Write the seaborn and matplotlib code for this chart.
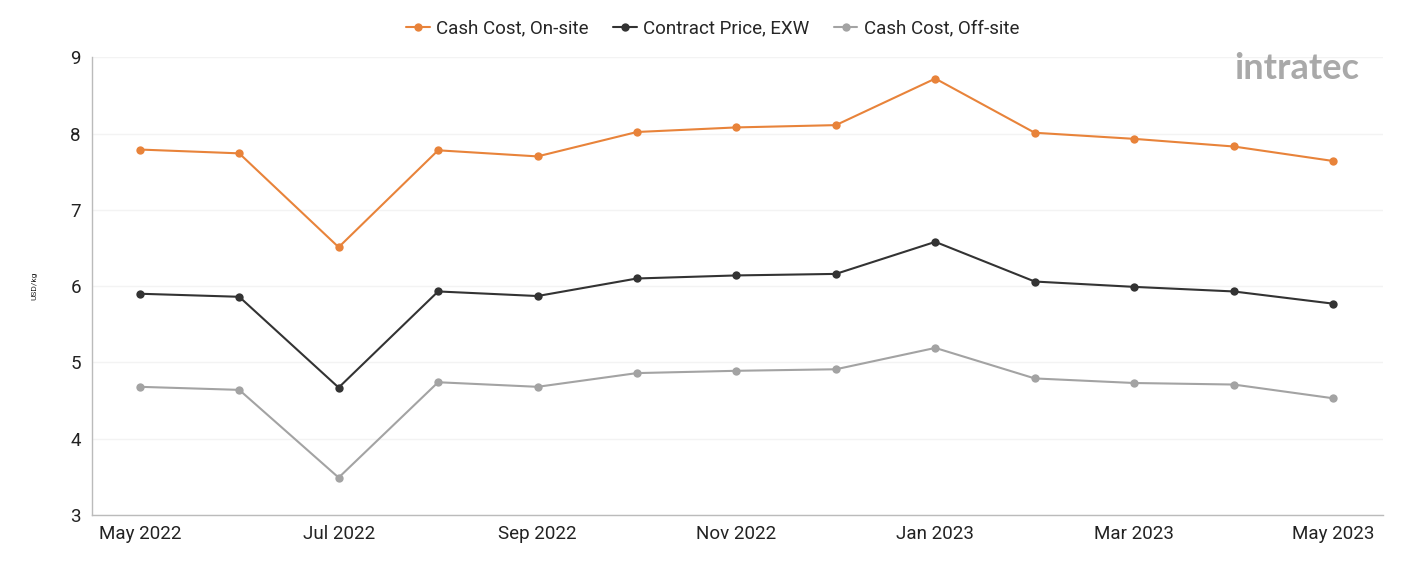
import pandas as pd
import matplotlib.pyplot as plt
import seaborn as sns

# data
months = ['May 2022', 'Jun 2022', 'Jul 2022', 'Aug 2022', 'Sep 2022', 'Oct 2022', 'Nov 2022',
          'Dec 2022', 'Jan 2023', 'Feb 2023', 'Mar 2023', 'Apr 2023', 'May 2023']
onsite = [7.79, 7.74, 6.51, 7.78, 7.70, 8.02, 8.08, 8.11, 8.72, 8.01, 7.93, 7.83, 7.64]
contract = [5.90, 5.86, 4.67, 5.93, 5.87, 6.10, 6.14, 6.16, 6.58, 6.06, 5.99, 5.93, 5.77]
offsite = [4.68, 4.64, 3.49, 4.74, 4.68, 4.86, 4.89, 4.91, 5.19, 4.79, 4.73, 4.71, 4.53]
series = ['Cash Cost, On-site', 'Contract Price, EXW', 'Cash Cost, Off-site']
colors = ['#e8833a', '#333333', '#a3a3a3']

rows = []
for name, vals in zip(series, [onsite, contract, offsite]):
    for i, v in enumerate(vals):
        rows.append({'idx': i, 'month': months[i], 'value': v, 'series': name})
df = pd.DataFrame(rows)

sns.set_style('white')
plt.rcParams['font.family'] = ['Roboto', 'DejaVu Sans']

fig = plt.figure(figsize=(14.01, 5.61), dpi=100)
ax = fig.add_axes([0.0657, 0.082, 0.9213, 0.816])

sns.lineplot(data=df, x='idx', y='value', hue='series', hue_order=series,
             palette=colors, marker='o', markersize=6, markeredgewidth=0,
             linewidth=1.5, ax=ax)

ax.set_xlim(-0.48, 12.5)
ax.set_ylim(3, 9)
ax.set_yticks(range(3, 10))
ax.set_xticks(range(0, 13, 2))
ax.set_xticklabels(months[::2])
ax.tick_params(axis='both', labelsize=13.5, length=0, colors='#222222')
ax.tick_params(axis='x', pad=7)
ax.tick_params(axis='y', pad=8)
ax.grid(axis='y', color='#f3f3f3', linewidth=1)
for s in ['top', 'right']:
    ax.spines[s].set_visible(False)
for s in ['left', 'bottom']:
    ax.spines[s].set_color('#bbbbbb')
    ax.spines[s].set_linewidth(1)
ax.set_xlabel('')
ax.set_ylabel('USD/kg', fontsize=6, color='#222222', labelpad=24)

leg = ax.legend(loc='upper center', bbox_to_anchor=(0.481, 1.12), ncol=3, frameon=False,
                fontsize=13.5, handlelength=1.25, columnspacing=1.3, handletextpad=0.35)

# logo
fig.text(0.881, 0.878, 'intratec', fontsize=26, color='#9a9a9a', fontweight='bold',
         family=['Lato', 'DejaVu Sans'], ha='left', va='center', alpha=0.85)

fig.savefig('out.png', dpi=100)
